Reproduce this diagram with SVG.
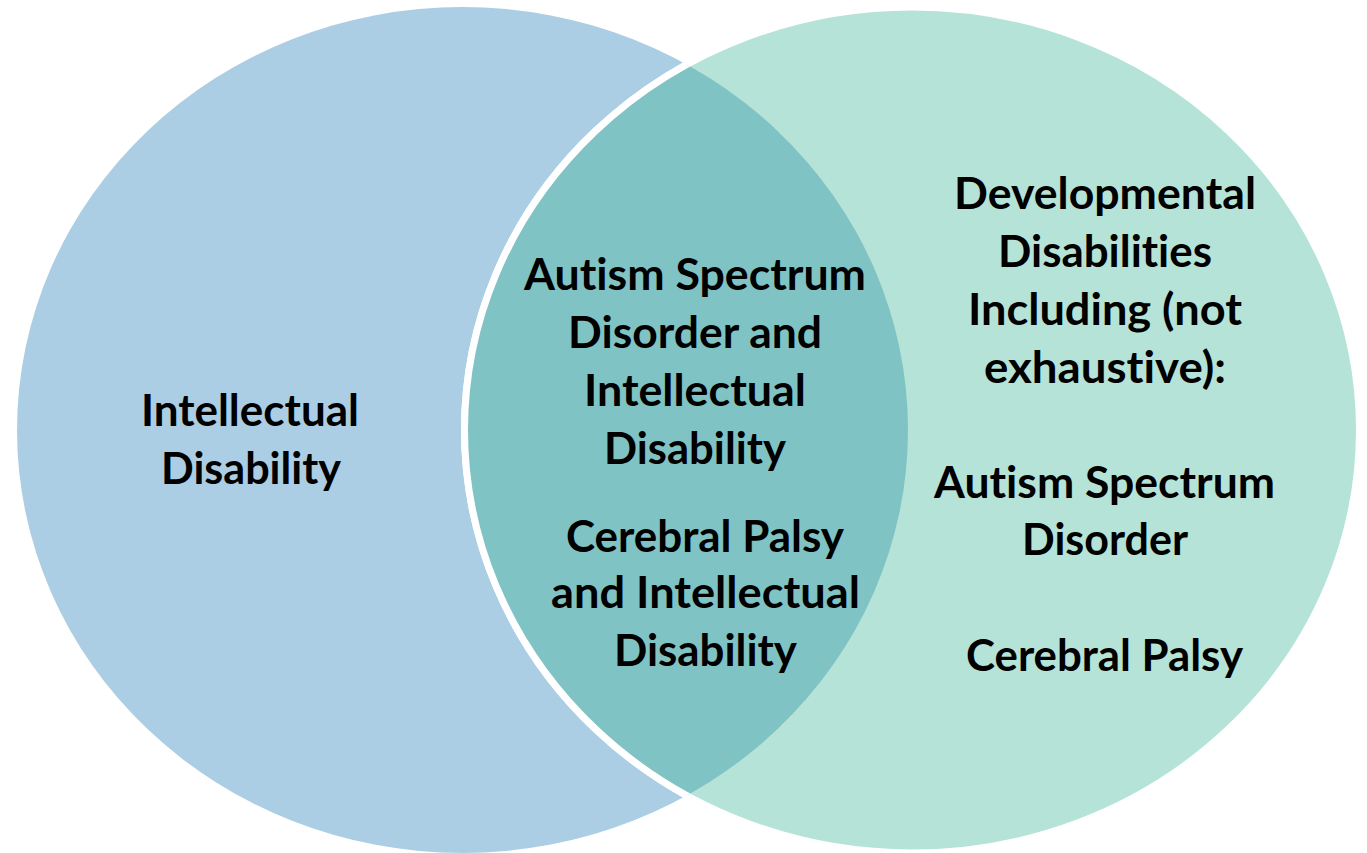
<svg xmlns="http://www.w3.org/2000/svg" width="1367" height="853" viewBox="0 0 1367 853">
<style>
.t{font-family:Lato,"Open Sans","Liberation Sans",sans-serif;font-weight:bold;font-size:44px;fill:#000;text-anchor:middle;font-variant-ligatures:none;font-feature-settings:"liga" 0,"clig" 0,"dlig" 0}
</style>
<defs>
<clipPath id="leftClip"><ellipse cx="462.5" cy="430" rx="445.5" ry="423"/></clipPath>
</defs>
<rect width="1367" height="853" fill="#fff"/>
<g id="intellectual-disability">
<ellipse cx="462.5" cy="430" rx="445.5" ry="423" fill="#abcee5"/>
</g>
<g id="developmental-disabilities">
<ellipse cx="912" cy="430" rx="447.5" ry="423" fill="#b6e3d7" stroke="#fff" stroke-width="7"/>
</g>
<g id="overlap">
<g clip-path="url(#leftClip)">
<ellipse cx="912" cy="430" rx="447.5" ry="423" fill="#80c3c4" stroke="#fff" stroke-width="7"/>
</g>
</g>
<g id="connectors"></g>
<g id="label-left">
<text class="t" x="250" y="426" textLength="218" lengthAdjust="spacingAndGlyphs">Intellectual</text>
<text class="t" x="251" y="484" textLength="180" lengthAdjust="spacingAndGlyphs">Disability</text>
</g>
<g id="label-middle">
<text class="t" x="695" y="290" textLength="342" lengthAdjust="spacingAndGlyphs">Autism Spectrum</text>
<text class="t" x="695" y="348" textLength="254" lengthAdjust="spacingAndGlyphs">Disorder and</text>
<text class="t" x="695" y="406" textLength="222" lengthAdjust="spacingAndGlyphs">Intellectual</text>
<text class="t" x="695" y="464" textLength="182" lengthAdjust="spacingAndGlyphs">Disability</text>
<text class="t" x="705" y="552" textLength="278" lengthAdjust="spacingAndGlyphs">Cerebral Palsy</text>
<text class="t" x="705.5" y="608" textLength="309" lengthAdjust="spacingAndGlyphs">and Intellectual</text>
<text class="t" x="705.5" y="666" textLength="183" lengthAdjust="spacingAndGlyphs">Disability</text>
</g>
<g id="label-right">
<text class="t" x="1105" y="209" textLength="302" lengthAdjust="spacingAndGlyphs">Developmental</text>
<text class="t" x="1105" y="267" textLength="214" lengthAdjust="spacingAndGlyphs">Disabilities</text>
<text class="t" x="1105" y="325" textLength="274" lengthAdjust="spacingAndGlyphs">Including (not</text>
<text class="t" x="1105" y="383" textLength="242" lengthAdjust="spacingAndGlyphs">exhaustive):</text>
<text class="t" x="1104.5" y="498" textLength="341" lengthAdjust="spacingAndGlyphs">Autism Spectrum</text>
<text class="t" x="1105" y="555" textLength="166" lengthAdjust="spacingAndGlyphs">Disorder</text>
<text class="t" x="1104.5" y="671" textLength="277" lengthAdjust="spacingAndGlyphs">Cerebral Palsy</text>
</g>
</svg>
